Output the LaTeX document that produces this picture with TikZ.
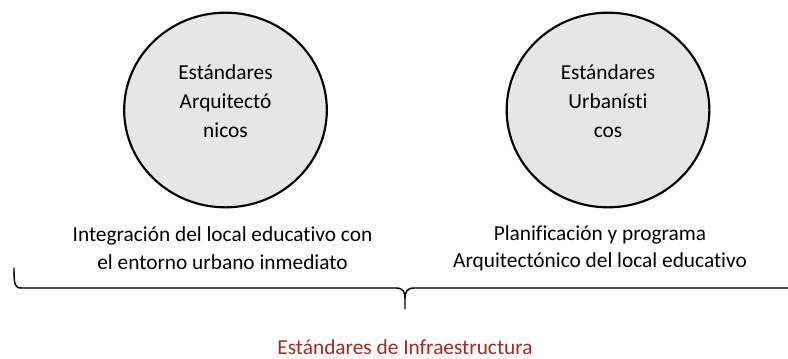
\documentclass[tikz,border=0pt]{standalone}
\usepackage{fontspec}
\setmainfont{Carlito}[RawFeature={-liga;-clig;-calt;-dlig}]
\usetikzlibrary{shapes.geometric,positioning}
\definecolor{RingGray}{RGB}{230, 230, 230}
\definecolor{TitleRed}{RGB}{160, 40, 40}
\newcommand{\nolig}{\kern0pt}

\begin{document}
\begin{tikzpicture}[
    x=0.75pt, y=-0.75pt,
    ring/.style={ellipse, draw=black, fill=RingGray, line width=1.6pt, minimum width=152pt, minimum height=146pt, inner sep=0pt},
    ringtext/.style={align=center, font=\fontsize{16}{21.5}\selectfont},
    caption/.style={align=center, font=\fontsize{16}{20.5}\selectfont},
    brace/.style={line width=1.1pt, line cap=round, line join=round}
]
\useasboundingbox (0,0) rectangle (788,358);

% Circles
\node[ring] (arq) at (225.5,110) {};
\node[ring] (urb) at (608,110) {};
\node[ringtext] (arqtext) at (225.5,101) {Estándares\\Arquitectó\\nicos};
\node[ringtext] (urbtext) at (608,101) {Estándares\\Urbanís\nolig t\nolig i\\cos};

% Texts under the circles
\node[caption] (integ) at (222.5,248) {Integración del local educat\nolig ivo con\\el entorno urbano inmediato};
\node[caption] (plan) at (600,248) {Planificación y programa\\Arquitectónico del local educat\nolig ivo};

% Brace
\coordinate (bl) at (14,268);
\coordinate (bt) at (405,309);
\draw[brace] (bl) .. controls (14,286) and (15,288) .. (22,288) -- (396,288)
    .. controls (403,288) and (405,292) .. (405,298) -- (bt);
\draw[brace] (405,298) .. controls (405,292) and (407,288) .. (414,288) -- (800,288);

% Title
\node[font=\fontsize{16}{20}\selectfont, TitleRed] (title) at (405,347) {Estándares de Infraestructura};

\end{tikzpicture}
\end{document}
